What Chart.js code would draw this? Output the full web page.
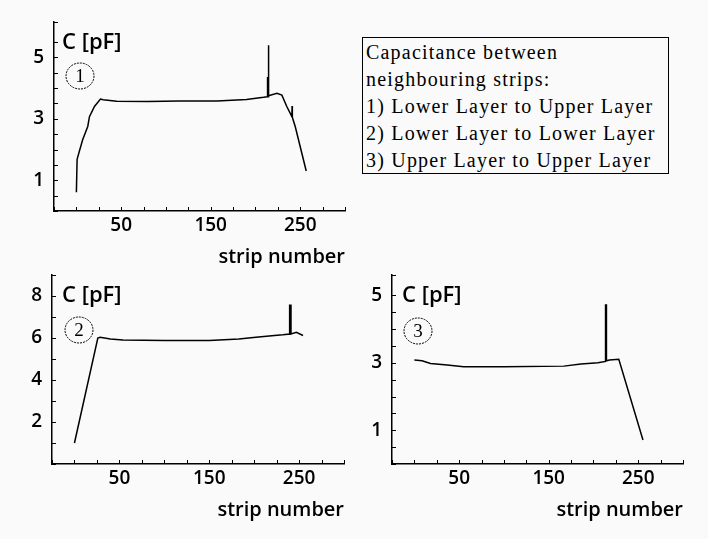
<!DOCTYPE html>
<html>
  <head>
    <script src="https://cdn.jsdelivr.net/npm/chart.js@4.4.0/dist/chart.umd.min.js"></script>
    <style>
      body {
        margin: 0;
        width: 708px;
        height: 539px;
        position: relative;
        overflow: hidden;
        background: #fafafa;
        font-family: "Open Sans", sans-serif;
      }
      canvas {
        position: absolute;
      }
      .note {
        position: absolute;
        left: 362px;
        top: 37px;
        width: 302px;
        height: 134px;
        padding: 1px 0 0 3px;
        border: 1px solid #000;
        font-family: "Liberation Serif", serif;
        font-size: 20px;
        letter-spacing: 1.2px;
        line-height: 27px;
        color: #000;
        white-space: nowrap;
      }
    </style>
  </head>
  <body>
    <canvas id="chart1" width="354" height="270" style="left:0;top:0"></canvas>
    <canvas id="chart2" width="354" height="273" style="left:0;top:250px"></canvas>
    <canvas id="chart3" width="354" height="273" style="left:340px;top:250px"></canvas>

    <div class="note">
      Capacitance between<br>
      neighbouring strips:<br>
      1) Lower Layer to Upper Layer<br>
      2) Lower Layer to Lower Layer<br>
      3) Upper Layer to Upper Layer
    </div>

    <script>
      // x axis labels shown (ticks every 25 strips)
      const xLabels = [50, 150, 250];

      // 1) lower layer to upper layer
      const strip1 = [0, 0.8, 3.4, 7, 12.7, 14.6, 20.2, 26.9, 30, 45, 80, 115, 157, 190, 209, 213.4, 213.4, 213.6, 214.5, 214.5, 214.8, 224, 229.5, 235, 240.7, 240.9, 241.2, 244.4, 256.7];
      const cap1 = [0.61, 1.68, 1.95, 2.32, 2.75, 3.07, 3.4, 3.64, 3.62, 3.57, 3.56, 3.58, 3.58, 3.63, 3.70, 3.72, 4.36, 3.72, 3.72, 5.39, 3.75, 3.83, 3.77, 3.4, 3.07, 3.42, 3.05, 2.75, 1.3];
      const yLabels1 = [1, 3, 5];

      // 2) lower layer to lower layer
      const strip2 = [0, 26, 28.5, 40, 54, 100, 150, 183, 202, 222.6, 232, 239.5, 239.5, 241, 241, 247, 254.4];
      const cap2 = [1.0, 6.0, 6.03, 5.95, 5.9, 5.88, 5.88, 5.95, 6.03, 6.12, 6.15, 6.19, 7.56, 7.56, 6.19, 6.27, 6.12];
      const yLabels2 = [2, 4, 6, 8];

      // 3) upper layer to upper layer
      const strip3 = [0, 8.6, 18, 36.7, 55, 100, 167, 186, 205, 213.5, 213.5, 214.5, 214.5, 217.8, 228.3, 255.3];
      const cap3 = [3.08, 3.06, 2.98, 2.93, 2.88, 2.88, 2.9, 2.96, 3.0, 3.04, 4.71, 4.71, 3.06, 3.08, 3.1, 0.71];
      const yLabels3 = [1, 3, 5];

      function toPoints(xs, ys) {
        return xs.map((x, i) => ({ x: x, y: ys[i] }));
      }

      // inward tick marks, "C [pF]" label and circled panel number
      const decor = {
        id: 'decor',
        afterDraw(chart, args, opts) {
          const ctx = chart.ctx;
          const a = chart.chartArea;
          const sx = chart.scales.x;
          const sy = chart.scales.y;
          ctx.save();
          ctx.strokeStyle = '#000';
          ctx.lineWidth = 1;
          ctx.beginPath();
          sx.ticks.forEach(t => {
            const px = Math.round(sx.getPixelForValue(t.value)) + 0.5;
            ctx.moveTo(px, a.bottom);
            ctx.lineTo(px, a.bottom - 4);
          });
          sy.ticks.forEach(t => {
            const py = Math.round(sy.getPixelForValue(t.value)) + 0.5;
            ctx.moveTo(a.left, py);
            ctx.lineTo(a.left + 4, py);
          });
          ctx.stroke();

          ctx.fillStyle = '#000';
          ctx.textBaseline = 'middle';
          ctx.font = '600 22px "Open Sans"';
          ctx.fillText('C [pF]', a.left + opts.labelX, a.top + 21);

          const cx = a.left + opts.circle[0];
          const cy = a.top + opts.circle[1];
          ctx.setLineDash([2, 1]);
          ctx.beginPath();
          ctx.ellipse(cx, cy, 14, 13, 0, 0, Math.PI * 2);
          ctx.stroke();
          ctx.setLineDash([]);
          ctx.textAlign = 'center';
          ctx.font = '19px "Liberation Serif"';
          ctx.fillText(opts.num, cx, cy + 1);
          ctx.restore();
        }
      };

      function makeChart(id, xs, ys, yMax, yStep, yLabels, yWidth, padding, deco) {
        return new Chart(document.getElementById(id), {
          type: 'line',
          data: {
            datasets: [{
              data: toPoints(xs, ys),
              borderColor: '#000',
              borderWidth: 1.5,
              pointRadius: 0,
              tension: 0,
              fill: false
            }]
          },
          options: {
            responsive: false,
            animation: false,
            layout: { padding: padding },
            plugins: {
              legend: { display: false },
              tooltip: { enabled: false },
              decor: deco
            },
            scales: {
              x: {
                type: 'linear',
                min: -25,
                max: 300,
                grid: { drawOnChartArea: false, drawTicks: false },
                border: { color: '#000', width: 1.5 },
                ticks: {
                  stepSize: 25,
                  autoSkip: false,
                  maxRotation: 0,
                  padding: 3,
                  color: '#000',
                  font: { family: 'Open Sans', size: 19, weight: 600 },
                  callback: v => xLabels.includes(v) ? String(v) : ''
                },
                title: {
                  display: true,
                  text: 'strip number',
                  align: 'end',
                  color: '#000',
                  font: { family: 'Open Sans', size: 20, weight: 600 },
                  padding: { top: 0, bottom: 1 }
                },
                afterFit: s => { s.height = 59; }
              },
              y: {
                type: 'linear',
                min: 0,
                max: yMax,
                grid: { drawOnChartArea: false, drawTicks: false },
                border: { color: '#000', width: 1.5 },
                ticks: {
                  stepSize: yStep,
                  autoSkip: false,
                  padding: 10,
                  color: '#000',
                  font: { family: 'Open Sans', size: 19, weight: 600 },
                  callback: v => yLabels.includes(v) ? String(v) : ''
                },
                afterFit: s => { s.width = yWidth; }
              }
            }
          },
          plugins: [decor]
        });
      }

      makeChart('chart1', strip1, cap1, 6.15, 0.5, yLabels1, 54,
        { top: 22, right: 9, left: 0, bottom: 0 },
        { num: '1', circle: [26, 54], labelX: 8 });
      makeChart('chart2', strip2, cap2, 9, 1, yLabels2, 52,
        { top: 25, right: 10, left: 0, bottom: 0 },
        { num: '2', circle: [27, 55], labelX: 10 });
      makeChart('chart3', strip3, cap3, 5.6, 0.5, yLabels3, 52,
        { top: 25, right: 11, left: 0, bottom: 0 },
        { num: '3', circle: [26, 56], labelX: 10 });
    </script>
  </body>
</html>
